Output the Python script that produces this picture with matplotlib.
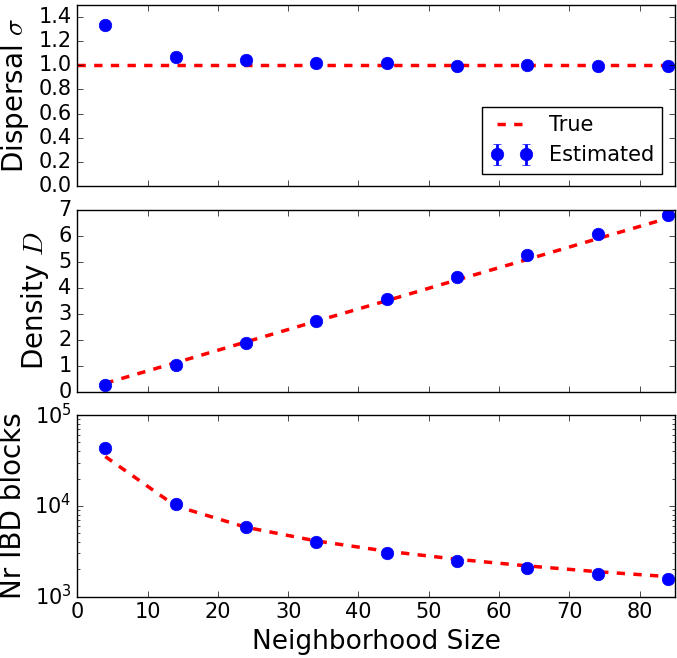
import matplotlib
matplotlib.use("Agg")
import matplotlib.pyplot as plt
import numpy as np

plt.style.use('classic')

nbh = [4, 14, 24, 34, 44, 54, 64, 74, 84]
sigma_true = 1.0
sigma_est = [1.33, 1.07, 1.04, 1.015, 1.02, 0.995, 1.005, 0.995, 0.99]
sigma_err = [0.01, 0.01, 0.01, 0.01, 0.01, 0.01, 0.01, 0.01, 0.01]
dens_true = [0.32, 1.11, 1.91, 2.71, 3.50, 4.30, 5.09, 5.89, 6.68]
dens_est = [0.25, 1.02, 1.87, 2.70, 3.55, 4.40, 5.27, 6.07, 6.80]
dens_err = [0.03, 0.04, 0.05, 0.05, 0.06, 0.06, 0.07, 0.07, 0.08]
ibd_true = [35000, 10000, 5830, 4120, 3180, 2590, 2190, 1890, 1670]
ibd_est = [44000, 10500, 5900, 4000, 3050, 2480, 2080, 1780, 1580]
ibd_err = [500, 200, 100, 80, 60, 50, 40, 35, 30]

fig, axes = plt.subplots(3, 1, figsize=(6.77, 6.58), dpi=100, sharex=True)
fig.subplots_adjust(left=0.114, right=0.997, top=0.993, bottom=0.093, hspace=0.13)

ms = 9
ax = axes[0]
ax.axhline(sigma_true, color='r', linestyle='--', linewidth=2.5, label='True')
ax.errorbar(nbh, sigma_est, yerr=sigma_err, fmt='o', color='b', markersize=ms,
            markeredgecolor='b', elinewidth=2, capsize=3, label='Estimated')
ax.set_ylim(0, 1.5)
ax.set_yticks(np.arange(0, 1.41, 0.2))
ax.set_ylabel(r'Dispersal $\sigma$', fontsize=20)
ax.legend(loc='lower right', fontsize=15, borderaxespad=0.6)

ax = axes[1]
ax.plot(nbh, dens_true, 'r--', linewidth=2.5)
ax.errorbar(nbh, dens_est, yerr=dens_err, fmt='o', color='b', markersize=ms,
            markeredgecolor='b', elinewidth=2, capsize=3)
ax.set_ylim(0, 7)
ax.set_ylabel(r'Density $D$', fontsize=20)

ax = axes[2]
ax.plot(nbh, ibd_true, 'r--', linewidth=2.5)
ax.errorbar(nbh, ibd_est, yerr=ibd_err, fmt='o', color='b', markersize=ms,
            markeredgecolor='b', elinewidth=2, capsize=3)
ax.set_yscale('log')
ax.set_ylim(1e3, 1e5)
ax.set_ylabel('Nr IBD blocks', fontsize=20)
ax.set_xlabel('Neighborhood Size', fontsize=19)
ax.set_xlim(0, 85)

for a in axes:
    a.tick_params(labelsize=15)

fig.savefig('out.png', dpi=100)
